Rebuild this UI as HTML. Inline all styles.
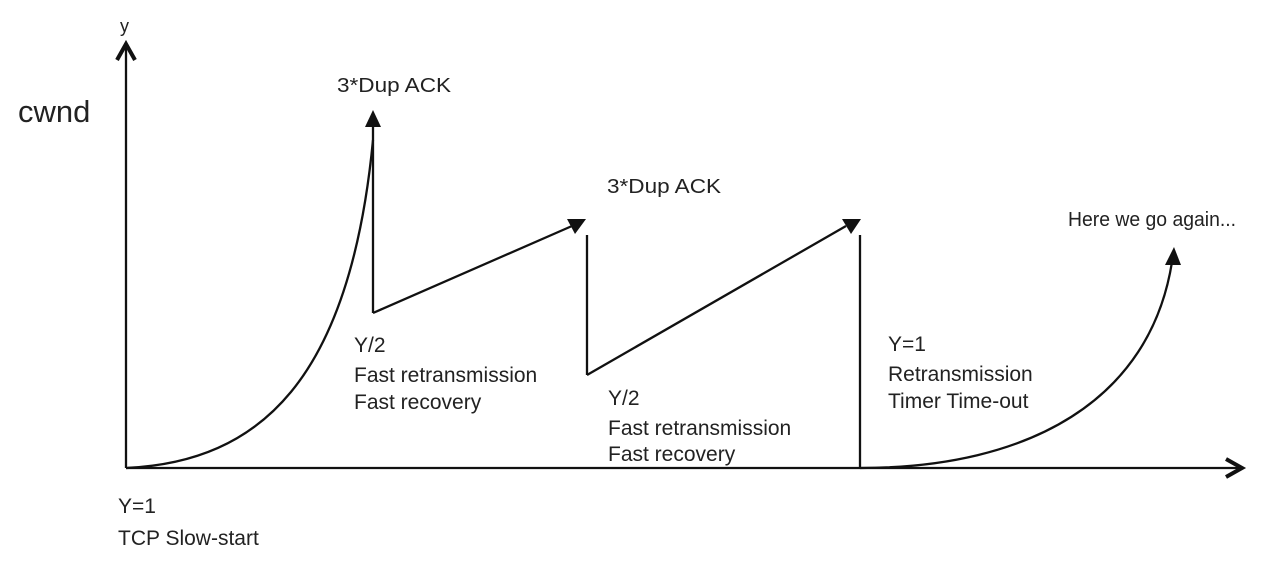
<!DOCTYPE html>
<html><head><style>
html,body{margin:0;padding:0;background:#fff;}
svg{display:block;}
text{font-family:"Liberation Sans",Arial,sans-serif;fill:#222;}
</style></head><body>
<svg width="1280" height="566" viewBox="0 0 1280 566" xmlns="http://www.w3.org/2000/svg">
<g stroke="#111" stroke-width="2.3" fill="none">
<line x1="126" y1="468" x2="126" y2="44"/>
<polyline points="117,60 126,44 135,60" stroke-width="4"/>
<line x1="126" y1="468" x2="1240" y2="468"/>
<polyline points="1226,459 1242,468 1226,477" stroke-width="4"/>
<path d="M126,468 C260,462 350,380 373,140"/>
<line x1="373" y1="126" x2="373" y2="313"/>
<line x1="373" y1="313" x2="572" y2="226"/>
<line x1="587" y1="235" x2="587" y2="375"/>
<line x1="587" y1="375" x2="846" y2="226"/>
<line x1="860" y1="235" x2="860" y2="468"/>
<path d="M860,468 C1030,468 1150,400 1172,262"/>
</g>
<g fill="#111" stroke="none">
<polygon points="373,110 365,127 381,127"/>
<polygon points="586,219 567,219 575,234"/>
<polygon points="861,219 842,219 851,234"/>
<polygon points="1174,247 1165,265 1181,265"/>
</g>
<text x="120" y="32" font-size="18">y</text>
<text x="18" y="122" font-size="31">cwnd</text>
<text x="337" y="92" font-size="20" textLength="114" lengthAdjust="spacingAndGlyphs">3*Dup ACK</text>
<text x="607" y="193" font-size="20" textLength="114" lengthAdjust="spacingAndGlyphs">3*Dup ACK</text>
<text x="1068" y="226" font-size="20" textLength="168" lengthAdjust="spacingAndGlyphs">Here we go again...</text>
<text font-size="21">
<tspan x="354" y="352">Y/2</tspan>
<tspan x="354" y="382">Fast retransmission</tspan>
<tspan x="354" y="409">Fast recovery</tspan>
</text>
<text font-size="21">
<tspan x="608" y="405">Y/2</tspan>
<tspan x="608" y="435">Fast retransmission</tspan>
<tspan x="608" y="461">Fast recovery</tspan>
</text>
<text font-size="21">
<tspan x="888" y="351">Y=1</tspan>
<tspan x="888" y="381">Retransmission</tspan>
<tspan x="888" y="408">Timer Time-out</tspan>
</text>
<text font-size="21">
<tspan x="118" y="513">Y=1</tspan>
<tspan x="118" y="545">TCP Slow-start</tspan>
</text>
</svg>
</body></html>
